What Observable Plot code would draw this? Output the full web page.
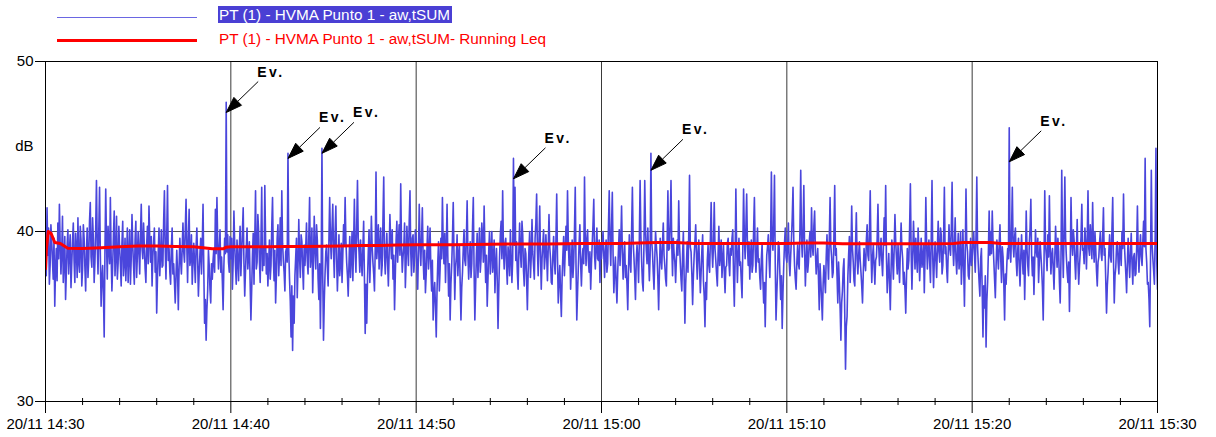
<!DOCTYPE html>
<html><head><meta charset="utf-8">
<script src="https://cdn.jsdelivr.net/npm/d3@7"></script>
<script src="https://cdn.jsdelivr.net/npm/@observablehq/plot@0.6"></script>
<style>
html,body{margin:0;padding:0;background:#fff;}
#wrap{position:relative;width:1216px;height:437px;font-family:"Liberation Sans",Arial,sans-serif;overflow:hidden;}
#legend{position:relative;width:1216px;height:50px;}
.lg-line{position:absolute;left:57px;width:140px;}
.lg-text{position:absolute;font-size:15.3px;line-height:17px;white-space:nowrap;}
#chart svg{display:block;}
</style></head><body>
<div id="wrap">
  <div id="legend"></div>
  <div id="chart"></div>
</div>
<script>
// ---- data ----
const startTime = "2023-11-20T14:30:00Z";
const endTime = "2023-11-20T15:30:00Z";
const seriesNames = ["PT (1) - HVMA Punto 1 - aw,tSUM", "PT (1) - HVMA Punto 1 - aw,tSUM- Running Leq"];
const seriesColors = ["#4a46dc", "#ff0000"];
// LAeq samples every 2.5 s, 14:30:00 .. 15:30:00 (dB), one row per minute
const laeqDb = [
38.5,37.4,41.4,38.6,40.2,36.9,38.0,40.4,39.5,38.3,37.2,39.6,35.6,37.8,39.0,37.1,40.5,38.4,41.6,39.3,37.5,38.8,40.9,37.0,
38.2,39.7,36.0,37.6,39.2,40.1,37.5,38.9,39.8,36.7,38.1,39.4,40.5,38.3,37.0,39.9,39.0,37.3,40.8,38.2,37.6,40.3,39.5,36.8,
37.8,40.4,39.6,37.9,36.5,38.8,40.2,37.3,38.4,40.6,41.7,38.5,37.9,40.8,39.5,37.0,38.2,40.1,43.0,39.2,37.5,40.0,42.6,38.7,
35.6,37.2,38.0,36.4,33.8,38.9,42.5,39.4,37.2,40.3,39.0,38.1,42.0,38.6,36.5,38.0,39.8,41.2,37.4,38.6,40.9,37.2,38.1,40.3,
39.0,38.1,36.8,39.3,40.6,37.4,38.2,39.6,37.1,38.5,40.2,37.0,38.6,40.1,36.9,38.4,41.0,39.2,38.0,36.9,39.5,40.6,37.3,38.6,
40.0,38.9,37.5,39.8,41.6,39.0,38.4,40.5,39.1,37.8,37.0,39.2,40.3,38.1,41.5,39.6,38.2,39.7,36.8,38.5,39.4,40.2,37.6,38.8,
35.2,37.3,38.8,40.2,37.4,38.6,40.1,37.9,38.0,40.6,42.4,39.1,37.2,39.8,42.7,38.3,39.0,37.6,36.9,39.1,40.2,37.5,38.1,37.0,
35.8,37.4,38.9,37.6,35.4,37.9,39.6,38.3,37.5,39.0,40.5,38.8,38.2,40.1,41.9,39.2,37.0,39.5,41.3,38.0,38.4,39.8,36.9,38.2,
39.3,38.2,37.0,39.1,40.2,38.4,36.2,37.6,38.7,39.6,37.5,39.2,41.6,37.7,34.6,36.0,33.6,35.4,36.5,38.9,38.0,36.6,35.8,38.1,
37.2,38.3,39.0,37.6,41.3,38.7,42.0,39.4,37.8,38.9,40.1,37.6,38.5,37.1,35.4,38.0,39.6,38.7,47.6,38.8,39.8,38.2,37.6,39.7,
38.4,39.6,36.6,38.2,41.2,39.3,38.0,36.9,39.5,38.4,37.1,39.0,40.3,37.4,38.8,40.0,41.4,38.1,36.2,37.7,39.0,40.2,37.8,38.6,
39.4,37.0,34.8,36.6,38.6,39.9,36.9,39.5,42.4,37.8,38.2,41.0,40.0,38.3,37.0,39.4,42.6,37.7,39.1,38.0,42.7,39.5,37.5,38.7,
36.8,38.1,39.5,37.2,38.0,40.3,42.0,38.6,37.1,38.9,35.8,37.4,39.6,40.4,37.4,38.6,40.8,38.0,42.4,39.3,38.3,37.6,36.5,38.8,
39.0,38.2,44.6,38.9,37.2,35.9,33.8,36.8,33.0,36.2,34.6,37.4,38.5,39.6,36.1,38.0,40.7,38.5,37.3,39.8,39.4,37.9,36.6,39.2,
38.0,39.1,40.5,38.3,37.5,39.7,42.0,37.9,38.6,40.2,36.4,38.3,40.9,39.0,37.8,40.4,39.5,37.2,36.0,38.1,34.3,37.8,44.9,37.5,
33.6,35.9,37.5,38.8,39.2,37.9,36.8,39.4,42.0,39.6,38.4,40.1,41.6,38.8,37.3,39.9,41.5,38.4,36.5,38.0,39.8,37.4,38.1,39.3,
37.0,38.6,40.4,39.2,42.0,39.5,38.2,37.4,36.2,38.1,39.7,37.3,38.5,40.0,37.1,39.2,41.9,38.9,37.6,40.3,43.0,39.6,38.8,37.6,
39.5,38.3,37.4,39.0,40.6,37.3,34.0,36.9,34.6,37.2,38.8,40.1,37.0,38.6,40.9,39.1,38.2,37.5,36.5,39.0,43.5,38.4,39.2,40.4,
37.8,39.0,40.2,37.4,38.0,40.7,43.2,38.6,37.5,38.8,39.9,38.2,36.8,38.7,41.0,39.4,38.4,40.1,37.2,38.6,35.4,37.4,39.5,40.6,
38.2,39.4,40.4,38.6,42.8,39.2,37.6,38.5,39.1,40.5,36.7,38.2,40.3,39.0,38.0,40.6,42.4,38.8,37.4,39.6,39.8,37.6,38.5,40.1,
39.6,37.8,36.6,38.9,41.6,39.2,38.0,39.6,41.4,38.5,37.2,38.9,36.4,37.5,39.0,40.3,37.8,38.7,40.2,37.9,36.5,38.3,34.8,36.3,
37.0,35.6,33.8,36.5,38.2,39.4,36.5,37.8,39.6,38.4,42.0,39.3,38.1,39.9,37.0,38.8,41.6,38.5,36.2,38.1,34.8,36.9,38.0,39.6,
41.7,38.6,36.0,37.9,38.5,39.8,37.4,38.6,39.2,37.0,34.8,36.7,37.6,39.0,40.1,38.3,38.0,39.5,41.8,38.7,37.2,38.4,39.4,37.3,
38.1,40.3,42.0,37.7,34.8,36.8,38.6,39.9,37.3,38.8,40.2,37.6,38.4,40.5,39.6,38.2,41.5,39.0,37.0,38.6,35.6,37.2,38.9,40.0,
37.5,38.8,40.0,37.6,38.2,39.5,36.4,38.0,39.0,37.1,34.3,36.6,38.5,39.8,40.6,38.4,42.4,39.0,37.8,39.3,39.6,38.0,36.9,39.1,
38.6,37.4,40.1,38.5,37.0,38.4,44.3,39.2,42.6,38.3,39.4,37.6,36.6,38.9,40.5,38.8,37.9,40.6,39.8,37.7,36.8,39.0,38.7,37.2,
35.4,37.6,38.9,40.0,37.3,38.5,40.7,38.8,38.0,37.2,39.6,40.5,42.2,38.9,37.4,39.3,41.5,38.6,36.6,38.4,39.2,40.1,37.8,38.5,
39.8,38.6,37.1,39.0,41.0,39.1,38.4,37.0,36.9,38.6,39.7,38.2,37.5,39.5,42.2,38.5,35.8,37.1,38.0,36.4,35.0,37.3,38.6,39.7,
37.4,38.8,40.3,38.9,42.4,39.5,38.0,39.2,36.6,38.0,39.5,37.3,38.2,40.0,42.6,38.0,34.8,36.4,37.9,39.3,40.4,38.1,36.8,38.4,
39.0,38.1,43.2,39.4,38.0,39.6,40.1,38.3,37.6,38.8,36.6,38.1,39.3,40.4,41.9,38.6,37.8,39.1,40.2,38.4,38.3,39.5,37.0,39.2,
38.4,39.2,40.0,38.6,37.3,38.9,39.5,37.6,38.1,40.3,42.4,39.5,38.0,40.2,42.3,38.6,36.4,37.7,38.5,36.9,35.8,37.6,39.0,40.1,
38.0,39.4,41.5,38.8,37.2,38.5,39.4,37.3,38.0,36.9,35.4,37.8,39.8,38.2,37.6,40.1,42.6,39.4,38.5,37.4,36.0,38.3,39.2,38.4,
37.0,39.5,43.0,39.8,38.2,37.0,36.5,39.3,43.0,40.1,38.9,38.1,40.2,38.5,37.1,38.6,44.6,39.4,38.8,37.6,36.6,38.4,40.0,39.2,
38.5,37.2,35.4,37.6,39.6,38.4,37.8,39.3,40.5,38.6,38.0,37.2,36.8,39.4,42.4,38.9,39.0,40.6,43.0,39.2,37.4,39.6,38.7,38.2,
37.0,38.4,39.5,38.6,41.8,39.3,38.2,37.2,36.5,38.6,40.0,37.4,34.6,36.9,38.1,39.4,37.6,39.9,43.3,39.1,38.8,37.5,35.7,37.4,
38.6,39.4,40.4,38.5,37.2,38.8,39.5,37.9,36.4,37.6,38.9,39.8,37.1,36.2,34.4,37.0,36.0,38.3,39.2,38.0,37.6,39.5,41.7,39.0,
37.9,39.2,41.7,39.0,38.3,37.5,36.8,38.7,40.3,38.0,38.6,39.5,37.3,38.3,39.2,37.6,36.4,37.9,38.0,39.3,39.6,38.2,37.4,39.0,
38.6,39.6,40.1,37.4,35.6,38.3,42.5,39.0,37.0,38.7,39.6,38.0,38.2,37.1,36.1,39.0,42.5,39.7,38.4,40.3,42.2,39.1,38.0,39.4,
37.2,38.5,39.5,37.6,38.0,40.1,42.0,38.9,37.6,38.8,40.2,38.2,38.4,37.3,36.6,38.4,39.3,37.2,35.8,37.0,34.4,36.9,38.6,39.1,
39.8,38.4,37.3,39.5,43.5,39.6,38.9,40.4,43.3,38.1,34.8,36.3,37.6,39.4,39.1,37.5,36.0,37.4,34.3,36.4,38.0,39.3,40.2,38.5,
38.2,39.0,40.5,38.3,37.4,38.6,39.6,40.8,42.6,39.4,38.0,37.2,36.6,38.2,39.2,38.1,37.8,40.2,43.6,39.6,38.5,40.1,42.7,38.9,
36.8,38.3,39.5,37.6,38.2,39.4,40.0,38.5,41.4,39.2,38.6,40.3,41.2,38.8,37.5,38.4,39.0,37.2,35.4,38.1,37.1,36.0,34.8,36.9,
38.0,37.2,36.4,38.5,39.8,38.4,37.2,39.6,42.0,39.1,38.5,37.3,37.6,39.8,42.7,38.6,39.0,37.4,35.8,38.2,37.0,35.5,33.6,35.8,
36.5,37.8,38.4,35.2,31.9,34.4,35.0,37.3,38.6,39.7,37.0,38.5,41.5,39.0,38.2,37.1,36.8,39.2,41.1,38.4,37.5,38.6,39.4,38.3,
37.6,36.8,35.8,37.6,39.0,38.2,37.7,39.5,40.4,38.6,38.3,40.0,42.4,38.8,37.0,38.5,39.2,38.0,36.9,38.3,38.5,39.6,41.6,39.1,
38.0,38.9,39.6,38.3,37.4,39.0,40.8,39.2,42.7,38.5,36.4,37.6,38.7,37.0,35.4,37.8,39.5,38.3,37.2,39.0,41.0,39.4,38.4,37.5,
39.2,38.1,37.0,38.9,40.5,39.0,38.4,36.9,37.6,36.6,35.2,37.4,39.0,37.8,38.3,40.2,42.8,38.8,36.6,38.5,40.6,39.2,37.8,39.6,
38.5,37.6,40.2,38.9,37.1,38.4,39.6,37.9,38.4,39.2,36.4,38.6,42.0,39.3,37.8,39.0,39.5,38.2,37.0,39.6,43.0,38.4,36.7,38.3,
39.4,38.4,37.3,39.1,40.6,38.8,38.2,40.2,39.8,37.5,38.0,39.6,42.6,38.7,39.1,37.8,37.0,38.8,40.4,39.0,38.6,40.1,42.9,39.2,
38.0,39.2,40.8,38.4,37.5,38.7,39.9,37.8,38.3,40.0,36.9,38.2,40.1,37.9,35.6,38.6,42.5,39.3,38.8,37.4,37.2,38.5,39.6,38.0,
38.5,39.4,40.0,38.6,37.6,39.8,43.2,39.1,38.0,37.0,36.2,38.4,39.0,36.5,33.8,36.8,35.5,37.4,33.2,35.9,37.0,38.8,41.2,38.6,
40.0,38.7,41.2,39.4,38.3,37.2,36.1,38.0,39.5,38.6,37.8,39.3,40.4,38.4,37.0,39.1,38.5,36.9,34.8,37.5,36.9,38.2,39.0,38.4,
46.1,39.0,38.2,40.0,42.6,39.2,38.5,39.7,40.2,38.3,37.4,38.9,39.6,37.9,36.8,38.6,39.8,38.4,37.5,38.9,36.0,38.3,41.2,39.0,
38.0,37.4,39.3,40.2,41.9,38.6,37.4,38.5,36.3,38.2,40.1,38.9,38.5,39.6,37.0,38.3,39.4,38.6,37.8,36.7,34.8,37.9,42.4,39.2,
38.6,37.7,39.8,38.5,42.1,39.1,37.5,38.6,39.0,37.8,36.6,38.4,40.3,39.0,37.9,39.6,38.8,37.0,35.8,38.4,43.6,39.4,37.3,39.8,
43.2,39.6,38.5,37.6,37.0,38.2,35.3,38.1,42.0,39.4,38.6,40.1,39.5,38.3,37.2,38.9,40.7,38.2,36.9,38.0,38.8,39.7,41.6,38.9,
39.0,38.1,40.2,39.3,37.8,39.6,42.4,39.0,38.6,40.4,39.5,38.4,41.7,39.2,38.2,40.0,39.0,37.7,36.8,38.2,38.5,39.4,40.0,38.7,
38.3,39.7,41.4,38.6,39.0,37.1,35.2,36.8,37.6,38.8,39.8,38.5,38.2,40.1,42.0,38.4,35.8,37.4,37.9,39.2,39.4,38.2,37.5,39.3,
38.9,38.0,40.0,39.0,42.2,39.4,38.4,37.5,36.4,38.2,39.6,38.3,37.3,38.8,39.9,38.1,36.9,38.5,38.7,37.4,37.5,39.0,41.5,38.8,
37.6,38.9,39.8,38.5,38.0,39.4,40.6,39.1,44.3,39.0,38.2,36.9,37.0,36.0,34.4,38.5,43.6,39.2,38.4,37.7,36.9,39.8,44.9,38.3,
36.6
];
// Running Leq: minutes after 14:30 and value (dB)
const leqMinutes = [0,0.05,0.15,0.3,0.5,0.8,1.2,2,3,4,5,6,7,8,8.5,9,9.6,9.75,10,11,12,13,14,15,16,17,18,19,20,21,22,23,24,25,26,27,28,29,30,31,32,33,34,35,36,37,38,39,40,41,42,43,44,45,46,47,48,49,49.5,51,51.5,52,54,56,58,60];
const leqDb = [37.8,39.0,40.0,39.9,39.35,39.3,39.02,39.0,39.05,39.1,39.15,39.15,39.12,39.1,39.05,38.98,38.98,39.08,39.1,39.1,39.1,39.12,39.12,39.13,39.15,39.17,39.18,39.2,39.22,39.22,39.22,39.24,39.25,39.26,39.27,39.27,39.28,39.3,39.3,39.3,39.32,39.36,39.36,39.3,39.3,39.3,39.3,39.3,39.3,39.33,39.32,39.28,39.28,39.28,39.28,39.28,39.28,39.3,39.35,39.35,39.3,39.3,39.3,39.3,39.3,39.3];
// Event markers
const eventTimes = ["14:39:45","14:43:05","14:44:55","14:55:15","15:02:40","15:22:00"];
const eventMarkDb = [47.0,44.3,44.6,43.1,43.6,44.1];
const eventLabels = ["Ev.","Ev.","Ev.","Ev.","Ev.","Ev."];
const yTicks = [30,40,50];
const yUnit = "dB";
const yUnitAt = 45;

// ---- legend (HTML, above the SVG) ----
const legend = document.getElementById("legend");
legend.innerHTML = `
  <div class="lg-line" style="top:17px;height:1px;background:#6a66e2"></div>
  <div class="lg-text" style="top:6px;left:218px;background:#4a3fd4;color:#fff;padding:0 2px 0 1px">${seriesNames[0]}</div>
  <div class="lg-line" style="top:38.5px;height:3px;background:${seriesColors[1]}"></div>
  <div class="lg-text" style="top:29.5px;left:219px;color:${seriesColors[1]}">${seriesNames[1]}</div>`;

// ---- build tables ----
const t0 = new Date(startTime), t1 = new Date(endTime);
const stepMs = (t1 - t0) / (laeqDb.length - 1);
const series = laeqDb.map((v, i) => ({t: new Date(+t0 + i * stepMs), v}));
const leq = leqMinutes.map((m, i) => ({t: new Date(+t0 + m * 60000), v: leqDb[i]}));
const events = eventTimes.map((s, i) => ({t: new Date(`2023-11-20T${s}Z`), v: eventMarkDb[i], label: eventLabels[i]}));
const majorTicks = d3.utcMinute.every(10).range(t0, new Date(+t1 + 1));
const minorTicks = d3.utcMinute.every(2).range(t0, new Date(+t1 + 1)).filter(d => d.getUTCMinutes() % 10 !== 0);

// arrow glyph: tip at the point, shaft to the upper right
const arrowSymbol = {
  draw(ctx) {
    ctx.moveTo(0, 0);
    ctx.lineTo(15.3, -7.2);
    ctx.lineTo(7.7, -15.1);
    ctx.closePath();
    ctx.moveTo(11.5, -11.1);
    ctx.lineTo(32, -31);
  }
};

const chart = Plot.plot({
  width: 1216,
  height: 387,
  marginTop: 11,
  marginBottom: 36,
  marginLeft: 45,
  marginRight: 59,
  style: {fontFamily: "'Liberation Sans', Arial, sans-serif", fontSize: "15px", background: "white", color: "black"},
  x: {type: "utc", domain: [t0, t1]},
  y: {domain: [30, 50]},
  marks: [
    Plot.gridX(majorTicks, {stroke: "#3a3a3a", strokeOpacity: 1}),
    Plot.gridY([40], {stroke: "#555", strokeOpacity: 1}),
    Plot.lineY(series, {x: "t", y: "v", stroke: seriesColors[0], strokeWidth: 1.6, clip: true}),
    Plot.line(leq, {x: "t", y: "v", stroke: seriesColors[1], strokeWidth: 3, clip: true}),
    Plot.frame({stroke: "black"}),
    Plot.ruleX(minorTicks, {x: d => d, y1: 30, y2: 30, insetTop: -3, insetBottom: -4, stroke: "black"}),
    Plot.axisX(majorTicks, {tickFormat: d3.utcFormat("%d/%m %H:%M"), tickSize: 12, tickPadding: 5, label: null, fontSize: 15}),
    Plot.axisY(yTicks, {tickSize: 10, tickPadding: 2, label: null, fontSize: 15}),
    Plot.text([yUnit], {y: [yUnitAt], frameAnchor: "left", dx: -12, textAnchor: "end", fontSize: 15}),
    Plot.dot(events, {x: "t", y: "v", symbol: arrowSymbol, fill: "black", stroke: "black", strokeWidth: 1}),
    Plot.text(events, {x: "t", y: "v", text: "label", dx: 31, dy: -36, textAnchor: "start", lineAnchor: "bottom", fontWeight: "bold", fontSize: 14})
  ]
});
// letter spacing of the event labels
chart.querySelectorAll("text").forEach(el => {
  if (eventLabels.includes(el.textContent)) el.style.letterSpacing = "2.5px";
});
document.getElementById("chart").append(chart);
</script>
</body></html>
